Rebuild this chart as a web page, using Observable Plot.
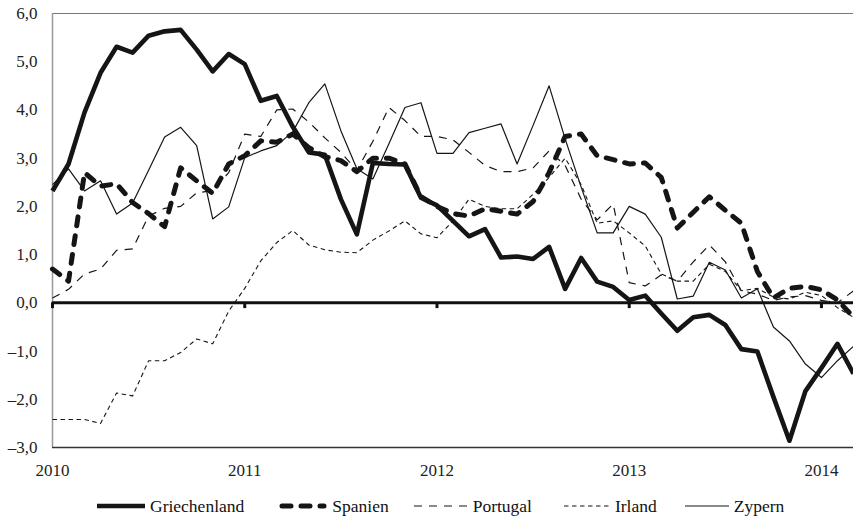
<!DOCTYPE html>
<html><head><meta charset="utf-8">
<script src="https://cdn.jsdelivr.net/npm/d3@7"></script>
<script src="https://cdn.jsdelivr.net/npm/@observablehq/plot@0.6"></script>
<style>
body{margin:0;background:#fff;font-family:"Liberation Serif","Times New Roman",serif;}
#legend{display:flex;align-items:center;height:28px;padding-left:97px;padding-top:2px;font-size:17.5px;color:#111;}
.item{display:flex;align-items:center;}
.item svg{margin-right:5px;}
</style></head><body><div id="chart"></div><div id="legend"></div>
<script>
// Monthly values, Jan 2010 (index 0) .. Mar 2014 (index 50)
const seriesNames = ["Griechenland", "Spanien", "Portugal", "Irland", "Zypern"];
const griechenland = [2.32,2.88,3.95,4.77,5.31,5.19,5.54,5.63,5.66,5.25,4.8,5.16,4.95,4.19,4.29,3.65,3.12,3.07,2.15,1.42,2.9,2.88,2.87,2.18,2.02,1.7,1.38,1.53,0.94,0.96,0.91,1.16,0.29,0.93,0.44,0.33,0.06,0.15,-0.22,-0.58,-0.3,-0.25,-0.46,-0.96,-1.01,-1.95,-2.86,-1.83,-1.35,-0.85,-1.47];
const spanien = [0.7,0.45,2.7,2.42,2.47,2.08,1.85,1.58,2.8,2.53,2.27,2.88,3.05,3.36,3.33,3.5,3.22,3.03,2.95,2.72,3.0,3.0,2.88,2.2,2.0,1.85,1.8,1.95,1.9,1.84,2.1,2.7,3.45,3.5,3.05,2.97,2.88,2.9,2.6,1.55,1.88,2.2,1.92,1.65,0.65,0.1,0.3,0.34,0.27,0.06,-0.3];
const portugal = [0.1,0.28,0.6,0.7,1.09,1.12,1.8,1.96,2.0,2.28,2.33,2.7,3.5,3.45,4.0,4.02,3.75,3.42,3.12,2.75,3.35,4.05,3.78,3.45,3.45,3.38,3.12,2.85,2.72,2.72,2.8,3.15,2.85,2.15,1.72,2.05,0.42,0.35,0.58,0.45,0.85,1.2,0.85,0.25,0.18,0.05,0.12,0.15,0.05,0.0,0.25];
const irland = [-2.42,-2.42,-2.42,-2.5,-1.87,-1.93,-1.2,-1.2,-1.03,-0.75,-0.85,-0.17,0.3,0.87,1.25,1.5,1.2,1.1,1.05,1.04,1.3,1.49,1.7,1.43,1.35,1.7,2.15,2.0,1.95,1.95,2.25,2.6,3.0,2.45,1.65,1.7,1.45,1.18,0.6,0.45,0.45,0.8,0.65,0.25,0.3,0.12,0.08,0.22,0.15,-0.1,-0.3];
const zypern = [2.45,2.78,2.32,2.53,1.84,2.07,2.75,3.44,3.64,3.26,1.74,1.99,3.01,3.15,3.26,3.55,4.15,4.54,3.57,2.78,2.57,3.3,4.05,4.15,3.1,3.1,3.53,3.62,3.71,2.88,3.68,4.5,3.4,2.4,1.45,1.45,2.0,1.84,1.36,0.08,0.14,0.84,0.68,0.1,0.29,-0.5,-0.79,-1.27,-1.55,-1.2,-0.9];
const yearTicks = [0, 12, 24, 36, 48];
const yearLabels = ["2010", "2011", "2012", "2013", "2014"];
const yTicks = [-3, -2, -1, 0, 1, 2, 3, 4, 5, 6];

const values = [griechenland, spanien, portugal, irland, zypern];
const styles = [
  {strokeWidth: 4.6, dash: null, cap: "butt", sample: 48, gap: 35},
  {strokeWidth: 5, dash: "9,10", cap: "round", sample: 48, gap: 25},
  {strokeWidth: 1.2, dash: "8,7", cap: "butt", sample: 54, gap: 32},
  {strokeWidth: 1.1, dash: "4.5,3.5", cap: "butt", sample: 46, gap: 28},
  {strokeWidth: 1.2, dash: null, cap: "butt", sample: 44, gap: 0}
];

const fmt = d => (d < 0 ? "\u2013" : "") + Math.abs(d).toFixed(1).replace(".", ",");

const lineMarks = seriesNames.map((name, i) => Plot.line(
  values[i].map((v, m) => ({m, v})),
  {x: "m", y: "v", stroke: "#151515", strokeWidth: styles[i].strokeWidth,
   strokeDasharray: styles[i].dash, strokeLinecap: styles[i].cap, strokeLinejoin: "round"}
));

const chart = Plot.plot({
  width: 853,
  height: 490,
  marginLeft: 52,
  marginRight: 0,
  marginTop: 13,
  marginBottom: 43,
  style: {fontFamily: "'Liberation Serif', 'Times New Roman', serif", fontSize: "17px", color: "#222", background: "#fff"},
  x: {domain: [0, 50]},
  y: {domain: [-3, 6]},
  marks: [
    Plot.ruleY([6], {stroke: "#777", strokeWidth: 1.2}),
    Plot.ruleX([0], {stroke: "#999", strokeWidth: 1.5}),
    Plot.ruleY([-3], {stroke: "#333", strokeWidth: 1.3}),
    Plot.axisY({ticks: yTicks, tickFormat: fmt, tickSize: 0, tickPadding: 15, fontSize: 17, label: null}),
    Plot.axisX({ticks: yearTicks, tickFormat: (d, i) => yearLabels[i], tickSize: 0, tickPadding: 16, fontSize: 17, label: null}),
    ...lineMarks,
    Plot.ruleY([0], {stroke: "#111", strokeWidth: 3}),
    Plot.ruleX(yearTicks, {x: d => d, y1: 0, y2: -0.12, stroke: "#111", strokeWidth: 3})
  ]
});
document.getElementById("chart").appendChild(chart);

const legend = document.getElementById("legend");
seriesNames.forEach((name, i) => {
  const s = styles[i];
  const item = document.createElement("div");
  item.className = "item";
  item.style.marginRight = s.gap + "px";
  const w = s.sample;
  item.innerHTML = `<svg width="${w}" height="12"><line x1="${s.cap === "round" ? 3 : 0}" x2="${s.cap === "round" ? w - 3 : w}" y1="6" y2="6" stroke="#151515" stroke-width="${s.strokeWidth}" ${s.dash ? `stroke-dasharray="${s.dash}"` : ""} stroke-linecap="${s.cap}"/></svg><span>${name}</span>`;
  legend.appendChild(item);
});
</script></body></html>
